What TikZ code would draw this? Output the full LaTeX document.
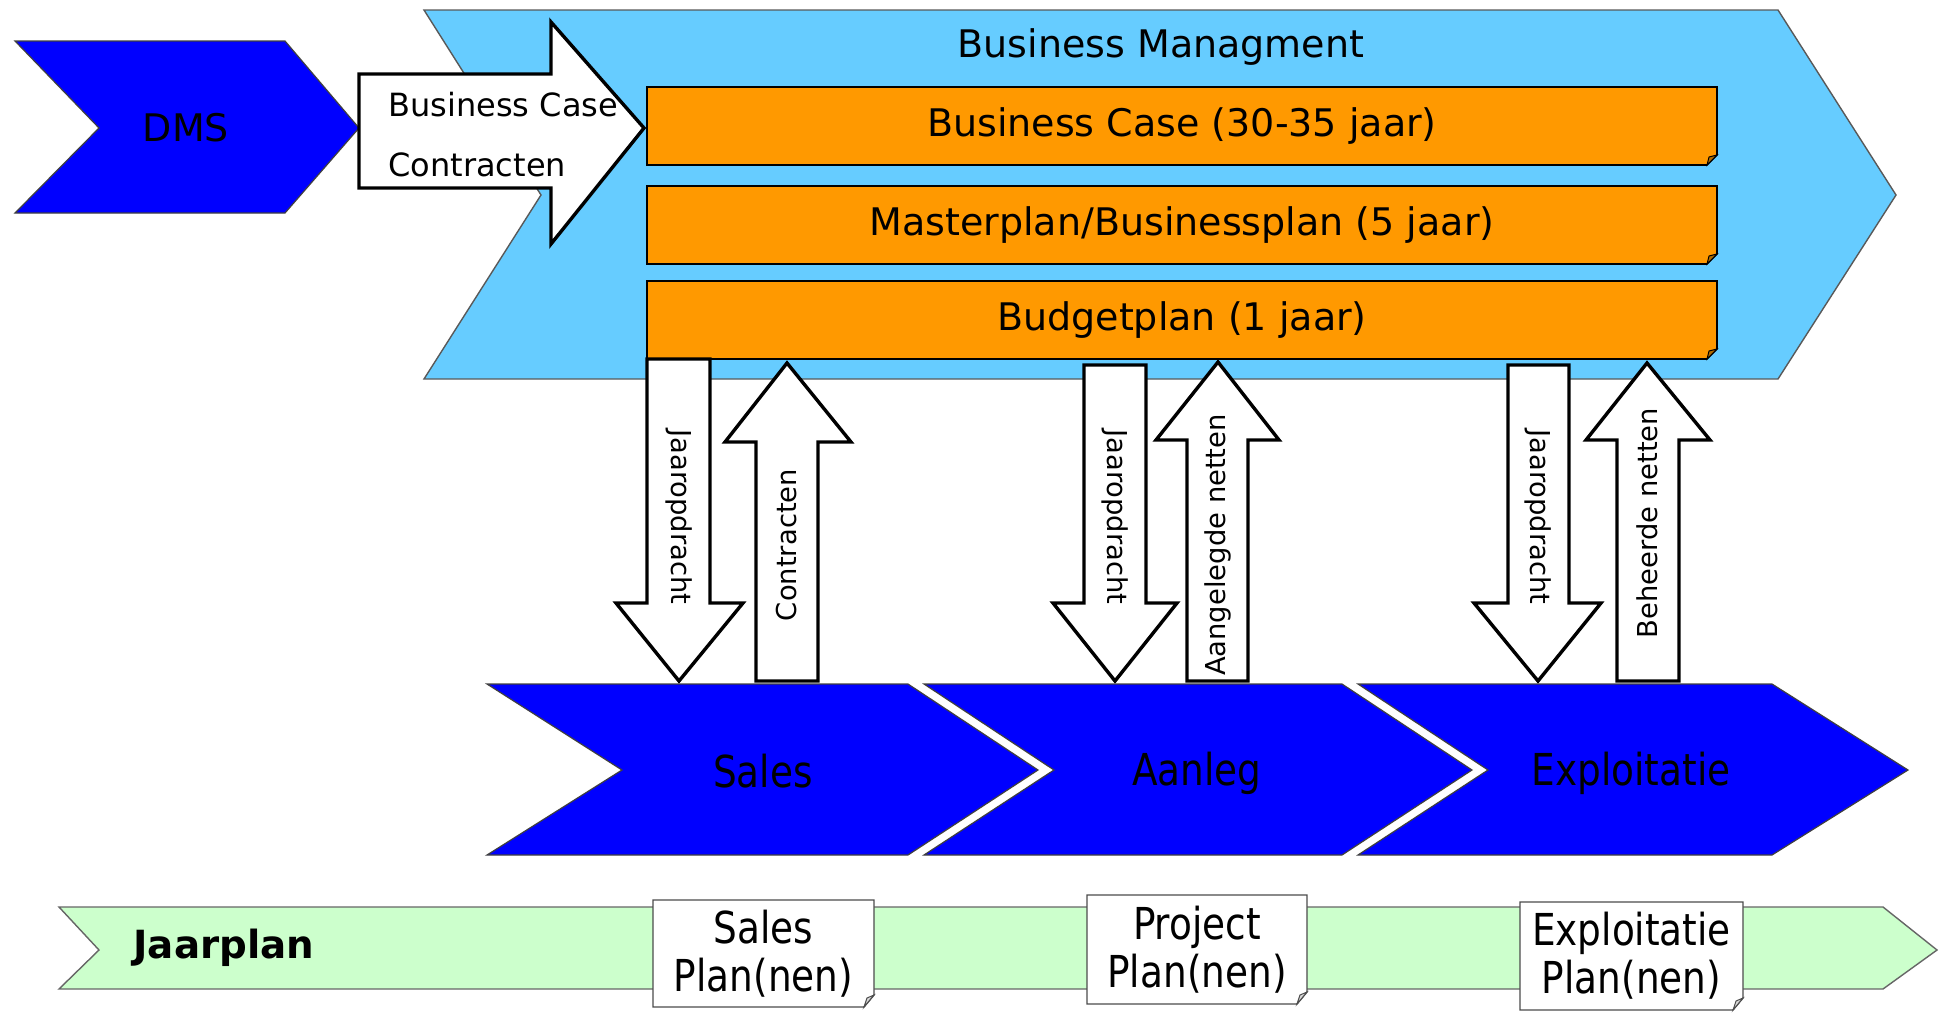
\documentclass[tikz,border=0pt]{standalone}
\usepackage{fontspec}
\setmainfont{DejaVu Sans}
\newfontfamily\condfont{DejaVu Sans}[FakeStretch=0.85]
\definecolor{bmblue}{HTML}{66CCFF}
\definecolor{planorange}{HTML}{FF9900}
\definecolor{procblue}{HTML}{0000FF}
\definecolor{jaargreen}{HTML}{CCFFCC}
\begin{document}
\begin{tikzpicture}[x=0.5pt,y=-0.5pt,
  chev/.style={fill=procblue, draw=black!75, line width=0.6pt},
  bmshape/.style={fill=bmblue, draw=black!65, line width=0.7pt},
  planbox/.style={fill=planorange, draw=black, line width=0.8pt},
  fold/.style={fill=planorange!70!black, draw=black, line width=0.5pt},
  blockarrow/.style={fill=white, draw=black, line width=1.7pt, line join=miter},
  docbox/.style={fill=white, draw=black!70, line width=0.7pt},
  toptext/.style={font=\fontsize{19}{22}\selectfont, inner sep=0pt},
  vtext/.style={font=\fontsize{13.7}{16}\selectfont, inner sep=0pt},
  wtext/.style={font=\fontsize{16}{19}\selectfont, inner sep=0pt, anchor=west},
  proctext/.style={font=\condfont\fontsize{22}{25}\selectfont, inner sep=0pt},
  doctext/.style={font=\condfont\fontsize{22}{24}\selectfont, inner sep=0pt, align=center}]
\useasboundingbox (0,0) rectangle (1943,1012);

% Business management chevron
\path[bmshape] (424,10) -- (1778,10) -- (1896,195) -- (1778,379) -- (424,379) -- (541,195) -- cycle;
\node[toptext] (bmtitle) at (1161,47) {Business Managment};

% DMS chevron
\path[chev] (15,41) -- (285,41) -- (359,128) -- (285,213) -- (15,213) -- (99,128) -- cycle;
\node[toptext] (dms) at (186,128) {DMS};

% white arrow DMS -> BM
\path[blockarrow] (359,74) -- (551,74) -- (551,22) -- (644,128) -- (551,244) -- (551,188) -- (359,188) -- cycle;
\node[wtext] (wa1) at (388,105) {Business Case};
\node[wtext] (wa2) at (388,165) {Contracten};

% orange plan boxes
\foreach \ya/\yb/\nm/\txt in {87/165/bc/{Business Case (30-35 jaar)},186/264/mp/{Masterplan/Businessplan (5 jaar)},281/359/bp/{Budgetplan (1 jaar)}}{
  \path[planbox] (647,\ya) -- (1717,\ya) -- (1717,\yb-10) -- (1707,\yb) -- (647,\yb) -- cycle;
  \path[fold] (1717,\yb-10) -- (1707,\yb) -- (1709,\yb-8) -- cycle;
  \node[toptext] (\nm) at (1182,{(\ya+\yb)/2}) {\txt};
}

% vertical block arrows: pair 1
\path[blockarrow] (647,359) -- (710,359) -- (710,603) -- (743,603) -- (679,681) -- (616,603) -- (647,603) -- cycle;
\node[vtext, rotate=-90] (ja1) at (679,517) {Jaaropdracht};
\path[blockarrow] (756,681) -- (818,681) -- (818,442) -- (851,442) -- (787,363) -- (725,442) -- (756,442) -- cycle;
\node[vtext, rotate=90] (co1) at (787,545) {Contracten};

% pair 2
\path[blockarrow] (1084,365) -- (1146,365) -- (1146,603) -- (1177,603) -- (1115,681) -- (1053,603) -- (1084,603) -- cycle;
\node[vtext, rotate=-90] (ja2) at (1115,517) {Jaaropdracht};
\path[blockarrow] (1187,681) -- (1248,681) -- (1248,440) -- (1279,440) -- (1218,362) -- (1156,440) -- (1187,440) -- cycle;
\node[vtext, rotate=90] (an2) at (1218,545) {Aangelegde netten};

% pair 3
\path[blockarrow] (1508,365) -- (1569,365) -- (1569,603) -- (1601,603) -- (1538,681) -- (1474,603) -- (1508,603) -- cycle;
\node[vtext, rotate=-90] (ja3) at (1538,517) {Jaaropdracht};
\path[blockarrow] (1617,681) -- (1679,681) -- (1679,440) -- (1710,440) -- (1647,363) -- (1586,440) -- (1617,440) -- cycle;
\node[vtext, rotate=90] (be3) at (1647,523) {Beheerde netten};

% process chevrons
\path[chev] (487,684) -- (908,684) -- (1038,770) -- (908,855) -- (487,855) -- (622,770) -- cycle;
\node[proctext] (sales) at (763,771) {Sales};
\path[chev] (924,684) -- (1342,684) -- (1472,770) -- (1342,855) -- (924,855) -- (1054,770) -- cycle;
\node[proctext] (aanleg) at (1197,773) {Aanleg};
\path[chev] (1358,684) -- (1772,684) -- (1908,770) -- (1772,855) -- (1358,855) -- (1488,770) -- cycle;
\node[proctext] (expl) at (1631,773) {Exploitatie};

% Jaarplan bar
\path[fill=jaargreen, draw=black!60, line width=0.7pt] (59,907) -- (1883,907) -- (1937,950) -- (1883,989) -- (59,989) -- (99,950) -- cycle;
\node[font=\bfseries\fontsize{19.4}{22}\selectfont, inner sep=0pt, anchor=west] (jaarplan) at (133,948) {Jaarplan};

% plan documents
\foreach \xa/\xb/\ya/\yb/\nm/\txt in {653/874/900/1007/sp/{Sales\\Plan(nen)},1087/1307/895/1004/pp/{Project\\Plan(nen)},1520/1743/902/1010/ep/{Exploitatie\\Plan(nen)}}{
  \path[docbox] (\xa,\ya) -- (\xb,\ya) -- (\xb,\yb-12) -- (\xb-10,\yb) -- (\xa,\yb) -- cycle;
  \path[draw=black!70, line width=0.5pt, fill=black!15] (\xb,\yb-12) -- (\xb-10,\yb) -- (\xb-7,\yb-9) -- cycle;
  \node[doctext] (\nm) at ({(\xa+\xb)/2},{(\ya+\yb)/2}) {\txt};
}
\end{tikzpicture}
\end{document}
